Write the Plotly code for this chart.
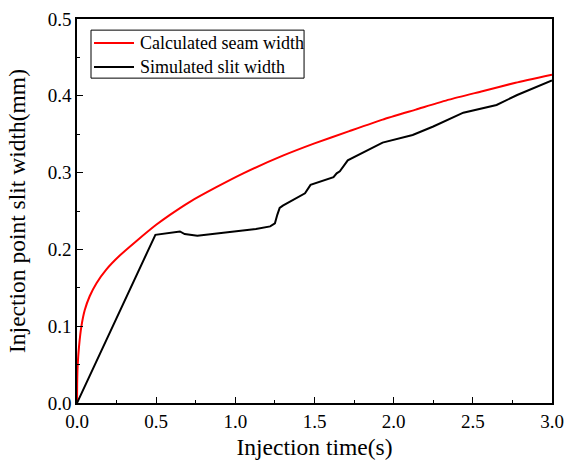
import plotly.graph_objects as go

# Calculated seam width (red curve)
calc_time = [0.0, 0.001, 0.004, 0.013, 0.028, 0.049, 0.08, 0.123, 0.186, 0.27, 0.376, 0.5,
             0.587, 0.713, 0.88, 1.05, 1.3, 1.5, 1.72, 1.93, 2.14, 2.35, 2.56, 2.77, 3.0]
calc_width = [0.0, 0.025, 0.048, 0.074, 0.100, 0.121, 0.139, 0.156, 0.174, 0.192, 0.211, 0.232,
              0.245, 0.262, 0.281, 0.299, 0.322, 0.338, 0.354, 0.369, 0.382, 0.395, 0.406, 0.417, 0.4275]

# Simulated slit width (black curve)
sim_time = [0.0, 0.495, 0.65, 0.68, 0.76, 0.985, 1.13, 1.22, 1.25, 1.265, 1.28, 1.30,
            1.44, 1.475, 1.62, 1.64, 1.66, 1.71, 1.93, 2.12, 2.25, 2.44, 2.65, 2.78, 3.0]
sim_width = [0.0, 0.219, 0.2234, 0.220, 0.2178, 0.2234, 0.2266, 0.230, 0.234, 0.245, 0.254, 0.257,
             0.273, 0.284, 0.294, 0.299, 0.3016, 0.316, 0.339, 0.349, 0.360, 0.378, 0.388, 0.401, 0.420]

x_ticks = [0.0, 0.5, 1.0, 1.5, 2.0, 2.5, 3.0]
y_ticks = [0.0, 0.1, 0.2, 0.3, 0.4, 0.5]

series_names = ["Calculated seam width", "Simulated slit width"]
series_colors = ["#ff0000", "#000000"]

font_family = '"Liberation Serif", "Times New Roman", serif'

fig = go.Figure()
fig.add_trace(go.Scatter(x=calc_time, y=calc_width, mode="lines",
                         line=dict(color=series_colors[0], width=2, shape="spline", smoothing=0.5),
                         name=series_names[0], showlegend=False))
fig.add_trace(go.Scatter(x=sim_time, y=sim_width, mode="lines",
                         line=dict(color=series_colors[1], width=2),
                         name=series_names[1], showlegend=False))

axis_common = dict(
    showgrid=False, zeroline=False, showline=True, linecolor="black", linewidth=1.5,
    mirror=True, ticks="inside", ticklen=6, tickwidth=1.2, tickcolor="black",
    tickfont=dict(family=font_family, size=19, color="black"),
    minor=dict(ticks="inside", ticklen=3.5, tickwidth=1.2, tickcolor="black"),
    automargin=False,
)

fig.update_xaxes(range=[0, 3.0], tickvals=x_ticks, ticktext=[f"{v:.1f}" for v in x_ticks],
                 minor_dtick=0.25,
                 title=dict(text="Injection time(s)", font=dict(family=font_family, size=23.5, color="black"),
                            standoff=8),
                 **axis_common)
fig.update_yaxes(range=[0, 0.5], tickvals=y_ticks, ticktext=[f"{v:.1f}" for v in y_ticks],
                 minor_dtick=0.05,
                 title=dict(text="Injection point slit width(mm)",
                            font=dict(family=font_family, size=23.5, color="black"), standoff=15),
                 **axis_common)

# Boxed legend in the upper-left corner of the plot area (paper coordinates)
box_x0, box_x1, box_y0, box_y1 = 0.0295, 0.478, 0.846, 0.971
sample_x0, sample_x1, label_x = 0.0358, 0.12, 0.128
row_y = [0.9375, 0.875]

shapes = [dict(type="rect", xref="paper", yref="paper", x0=box_x0, x1=box_x1, y0=box_y0, y1=box_y1,
               line=dict(color="black", width=1), fillcolor="white", layer="above")]
annotations = []
for name, color, yy in zip(series_names, series_colors, row_y):
    shapes.append(dict(type="line", xref="paper", yref="paper", x0=sample_x0, x1=sample_x1,
                       y0=yy, y1=yy, line=dict(color=color, width=2), layer="above"))
    annotations.append(dict(xref="paper", yref="paper", x=label_x, y=yy, text=name,
                            showarrow=False, xanchor="left", yanchor="middle",
                            font=dict(family=font_family, size=18, color="black")))

fig.update_layout(
    width=566, height=463,
    margin=dict(l=77, r=14, t=19, b=60),
    plot_bgcolor="white", paper_bgcolor="white",
    font=dict(family=font_family, color="black"),
    showlegend=False,
    shapes=shapes,
    annotations=annotations,
)

fig.write_html("out.html")
